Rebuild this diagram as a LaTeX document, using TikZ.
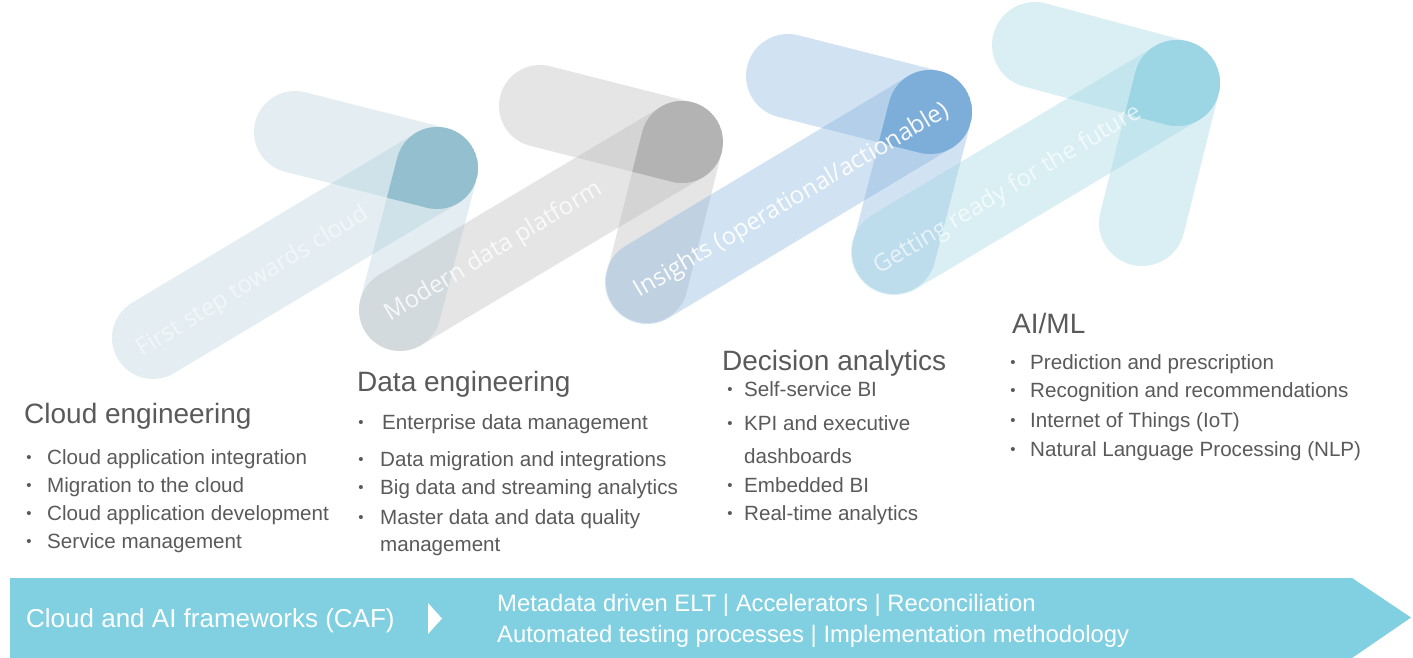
\documentclass[tikz,border=0pt]{standalone}
\usepackage{fontspec}
\setmainfont{Liberation Sans}
\newfontfamily\labfont{Open Sans}
\usetikzlibrary{calc}

\definecolor{txtgray}{HTML}{5A5A5A}
\definecolor{sA}{RGB}{148,191,207}
\definecolor{sB}{RGB}{179,179,179}
\definecolor{sC}{RGB}{125,174,218}
\definecolor{sD}{RGB}{156,213,227}
\definecolor{barcol}{RGB}{128,208,225}

\newcommand\capsule[3]{let \p1=(#1),\p2=(#2),\n1={atan2(\y2-\y1,\x2-\x1)},\n2={\n1+90},\n3={\n1-90},\n4={\n1-270} in ($(#1)+(\n2:#3)$) -- ($(#2)+(\n2:#3)$) arc[start angle=\n2,end angle=\n3,radius=#3] -- ($(#1)+(\n3:#3)$) arc[start angle=\n3,end angle=\n4,radius=#3] -- cycle}

\newcommand\bul[5]{%
  \node[btext,anchor=base west] (#1) at (#3,-#4) {#5};
  \node[btext,anchor=base] (#1dot) at (#2,-#4) {\fontsize{15}{15}\selectfont\raisebox{2pt}{\textbullet}};}

\tikzset{
  lab/.style={text=white,font=\labfont\fontsize{24}{29}\selectfont,inner sep=0pt},
  ttl/.style={text=txtgray,font=\fontsize{28}{34}\selectfont,inner sep=0pt,anchor=base west},
  btext/.style={text=txtgray,font=\fontsize{20.6}{25}\selectfont,inner sep=0pt},
  bartext/.style={text=white,inner sep=0pt,anchor=base west},
}

\begin{document}
\begin{tikzpicture}[x=1pt,y=1pt]
\useasboundingbox (0,0) rectangle (1413,-658);
\fill[white] (0,0) rectangle (1413,-658);

% arrow shapes
\coordinate (E1) at (437,-168); \coordinate (T1) at (295,-132); \coordinate (D1) at (153,-338); \coordinate (B1) at (400,-310);
\coordinate (E2) at (682,-142); \coordinate (T2) at (540,-106); \coordinate (D2) at (400,-310); \coordinate (B2) at (647,-282);
\coordinate (E3) at (930,-112); \coordinate (T3) at (788,-76);  \coordinate (D3) at (647,-282); \coordinate (B3) at (894,-252);
\coordinate (E4) at (1177,-83); \coordinate (T4) at (1035,-45); \coordinate (D4) at (894,-252); \coordinate (B4) at (1142,-223);

\foreach \k/\c/\a/\r in {1/sA/0.25/41pt, 2/sB/0.33/41pt, 3/sC/0.35/42pt, 4/sD/0.37/43pt} {
  \fill[\c, fill opacity=\a] \capsule{T\k}{E\k}{\r};
  \fill[\c, fill opacity=\a] \capsule{D\k}{E\k}{\r};
  \fill[\c, fill opacity=\a] \capsule{E\k}{B\k}{\r};
  \begin{scope}
    \clip \capsule{T\k}{E\k}{\r};
    \clip \capsule{D\k}{E\k}{\r};
    \fill[\c] \capsule{E\k}{B\k}{\r};
  \end{scope}
}

% labels on arrows
\node[lab, text opacity=.5, rotate=31.5] (l1) at (253,-282) {First step towards cloud};
\node[lab, text opacity=.8, rotate=31] (l2) at (494,-252) {Modern data platform};
\node[lab, text opacity=.95, rotate=30.5] (l3) at (792,-201) {Insights (operational/actionable)};
\node[lab, text opacity=.65, rotate=31] (l4) at (1008,-190) {Getting ready for the future};

% titles
\node[ttl] (t1) at (24,-423) {Cloud engineering};
\node[ttl] (t2) at (357,-391) {Data engineering};
\node[ttl] (t3) at (722,-370) {Decision analytics};
\node[ttl] (t4) at (1012,-333) {AI/ML};

% bullets
\bul{a1}{29}{47}{464}{Cloud application integration}
\bul{a2}{29}{47}{492}{Migration to the cloud}
\bul{a3}{29}{47}{520}{Cloud application development}
\bul{a4}{29}{47}{548}{Service management}

\bul{b1}{361}{382}{429}{Enterprise data management}
\bul{b2}{361}{380}{466}{Data migration and integrations}
\bul{b3}{361}{380}{494}{Big data and streaming analytics}
\bul{b4}{361}{380}{524}{Master data and data quality}
\node[btext,anchor=base west] (b5) at (380,-551) {management};

\bul{c1}{730}{744}{396}{Self-service BI}
\bul{c2}{730}{744}{430}{KPI and executive}
\node[btext,anchor=base west] (c3) at (744,-463) {dashboards};
\bul{c4}{730}{744}{492}{Embedded BI}
\bul{c5}{730}{744}{520}{Real-time analytics}

\bul{d1}{1013}{1030}{369}{Prediction and prescription}
\bul{d2}{1013}{1030}{397}{Recognition and recommendations}
\bul{d3}{1013}{1030}{427}{Internet of Things (IoT)}
\bul{d4}{1013}{1030}{456}{Natural Language Processing (NLP)}

% bottom bar
\fill[barcol] (10,-578) -- (1352,-578) -- (1411,-617.5) -- (1352,-658) -- (10,-658) -- cycle;
\node[bartext, font=\fontsize{26}{30}\selectfont] (caf) at (26,-627) {Cloud and AI frameworks (CAF)};
\fill[white] (428,-603) -- (442,-618.5) -- (428,-634) -- cycle;
\node[bartext, font=\fontsize{23.8}{28}\selectfont] (m1) at (497,-611) {Metadata driven ELT | Accelerators | Reconciliation};
\node[bartext, font=\fontsize{23.8}{28}\selectfont] (m2) at (497,-642) {Automated testing processes | Implementation methodology};
\end{tikzpicture}
\end{document}
